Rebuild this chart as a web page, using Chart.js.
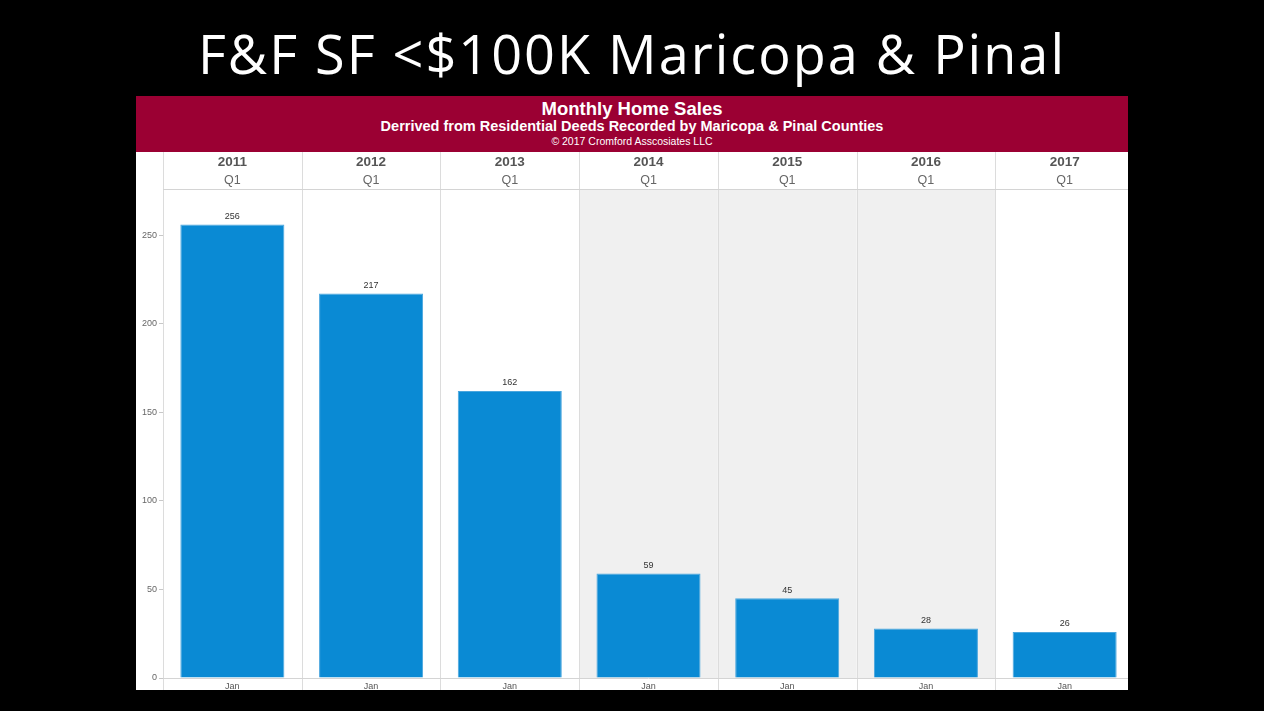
<!DOCTYPE html>
<html>
<head>
<meta charset="utf-8">
<script src="https://cdn.jsdelivr.net/npm/chart.js@4"></script>
<style>
  body { margin: 0; background: #000; width: 1264px; height: 711px; overflow: hidden; position: relative; }
  #title { position: absolute; left: 0; top: 13px; width: 1264px; text-align: center; color: #fff;
           font-family: "Open Sans", sans-serif; font-size: 54px; letter-spacing: 2px; line-height: 80px; }
  #band { position: absolute; left: 136px; top: 96px; width: 992px; height: 56px; background: #9b0033;
          color: #fff; text-align: center; font-family: "Liberation Sans", Arial, sans-serif; font-weight: bold; }
  #band .t1 { position: absolute; top: 2px; width: 100%; font-size: 18.5px; }
  #band .t2 { position: absolute; top: 22px; width: 100%; font-size: 14.5px; }
  #band .t3 { position: absolute; top: 39px; width: 100%; font-size: 10.5px; font-weight: normal; }
  #panel { position: absolute; left: 136px; top: 152px; width: 992px; height: 538px; background: #fff; overflow: hidden; }
  #chart { position: absolute; left: 0; top: 0; }
</style>
</head>
<body>
<div id="title">F&amp;F SF &lt;$100K Maricopa &amp; Pinal</div>
<div id="band">
  <div class="t1">Monthly Home Sales</div>
  <div class="t2">Derrived from Residential Deeds Recorded by Maricopa &amp; Pinal Counties</div>
  <div class="t3">© 2017 Cromford Asscosiates LLC</div>
</div>
<div id="panel"><canvas id="chart" width="998" height="538"></canvas></div>

<script>
// chart data
const years = ['2011', '2012', '2013', '2014', '2015', '2016', '2017'];
const quarters = ['Q1', 'Q1', 'Q1', 'Q1', 'Q1', 'Q1', 'Q1'];
const months = ['Jan', 'Jan', 'Jan', 'Jan', 'Jan', 'Jan', 'Jan'];
const sales = [256, 217, 162, 59, 45, 28, 26];
const shaded = [false, false, false, true, true, true, false]; // highlighted years
const yTicks = [0, 50, 100, 150, 200, 250];

// background columns, dividers and value labels
const framePlugin = {
    id: 'frame',
    beforeDatasetsDraw(chart) {
        const ctx = chart.ctx;
        const x = chart.scales.x;
        const area = chart.chartArea;
        const half = (x.getPixelForValue(1) - x.getPixelForValue(0)) / 2;
        ctx.save();
        ctx.fillStyle = '#f0f0f0';
        shaded.forEach((s, i) => {
            if (s) {
                const px = x.getPixelForValue(i);
                ctx.fillRect(px - half, area.top, half * 2, area.bottom - area.top);
            }
        });
        ctx.strokeStyle = '#dcdcdc';
        ctx.lineWidth = 1;
        for (let i = 0; i <= years.length; i++) {
            const bx = Math.round(x.getPixelForValue(0) - half + i * half * 2) + 0.5;
            ctx.beginPath();
            ctx.moveTo(bx, 0);
            ctx.lineTo(bx, chart.height);
            ctx.stroke();
        }
        ctx.strokeStyle = '#d4d4d4';
        ctx.beginPath();
        ctx.moveTo(area.left, Math.round(area.top) + 0.5);
        ctx.lineTo(area.right, Math.round(area.top) + 0.5);
        ctx.moveTo(area.left, Math.round(area.bottom) + 0.5);
        ctx.lineTo(area.right, Math.round(area.bottom) + 0.5);
        ctx.stroke();
        ctx.restore();
    },
    afterDatasetsDraw(chart) {
        const ctx = chart.ctx;
        const meta = chart.getDatasetMeta(0);
        ctx.save();
        ctx.fillStyle = '#333';
        ctx.font = '9px "Liberation Sans", Arial, sans-serif';
        ctx.textAlign = 'center';
        ctx.textBaseline = 'middle';
        meta.data.forEach((bar, i) => {
            ctx.fillText(sales[i], bar.x, bar.y - 8);
        });
        ctx.restore();
    }
};

const axisFont = { family: '"Liberation Sans", Arial, sans-serif', size: 12 };

new Chart(document.getElementById('chart'), {
    type: 'bar',
    data: {
        labels: months,
        datasets: [{
            data: sales,
            backgroundColor: '#0a8ad4',
            borderColor: '#4aa6de',
            borderWidth: 1,
            barPercentage: 0.75,
            categoryPercentage: 1
        }]
    },
    options: {
        responsive: false,
        animation: false,
        layout: { padding: 0 },
        plugins: { legend: { display: false }, tooltip: { enabled: false } },
        scales: {
            x: {
                position: 'bottom',
                grid: { display: false, drawTicks: false },
                border: { display: false },
                ticks: { color: '#555', font: { family: axisFont.family, size: 9 }, padding: 3, maxRotation: 0 },
                afterFit(scale) { scale.height = 12; }
            },
            xYear: {
                type: 'category',
                position: 'top',
                labels: years,
                weight: 2,
                grid: { display: false, drawTicks: false },
                border: { display: false },
                ticks: { color: '#555', font: { ...axisFont, size: 13.5, weight: 'bold' }, padding: 1, maxRotation: 0 },
                afterFit(scale) { scale.height = 19; }
            },
            xQuarter: {
                type: 'category',
                position: 'top',
                labels: quarters,
                weight: 1,
                grid: { display: false, drawTicks: false },
                border: { display: false },
                ticks: { color: '#666', font: { ...axisFont, size: 12.5 }, padding: 1, maxRotation: 0 },
                afterFit(scale) { scale.height = 18; }
            },
            y: {
                min: 0,
                max: 276,
                grid: { drawOnChartArea: false, tickLength: 4, color: '#c8c8c8' },
                border: { display: false },
                afterBuildTicks(scale) { scale.ticks = yTicks.map(v => ({ value: v })); },
                ticks: { color: '#666', font: { family: axisFont.family, size: 9 }, padding: 2 },
                afterFit(scale) { scale.width = 27; }
            }
        }
    },
    plugins: [framePlugin]
});
</script>
</body>
</html>
